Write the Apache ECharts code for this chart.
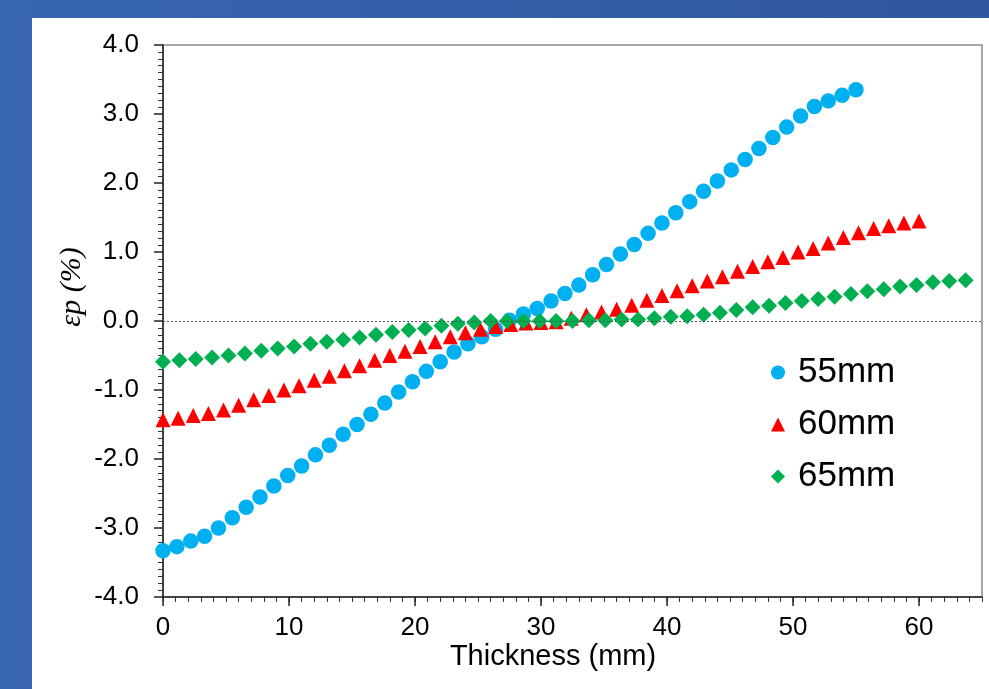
<!DOCTYPE html>
<html lang="en">

<head>
  <meta charset="utf-8">
  <title>Plastic strain vs thickness</title>
  <style>
    * {
      margin: 0;
      padding: 0;
    }

    #chart-container {
      position: relative;
      width: 989px;
      height: 689px;
      overflow: hidden;
    }
  </style>
</head>

<body>
  <div id="chart-container"></div>
  <script src="https://cdn.jsdelivr.net/npm/echarts@6/dist/echarts.min.js"></script>
  <script>
    // thickness positions (mm) and strain values (%)
    var x55 = [0, 1.1, 2.2, 3.3, 4.4, 5.5, 6.6, 7.7, 8.8, 9.9, 11, 12.1, 13.2, 14.3, 15.4, 16.5, 17.6, 18.7, 19.8, 20.9,
      22, 23.1, 24.2, 25.3, 26.4, 27.5, 28.6, 29.7, 30.8, 31.9, 33, 34.1, 35.2, 36.3, 37.4, 38.5, 39.6, 40.7, 41.8, 42.9,
      44, 45.1, 46.2, 47.3, 48.4, 49.5, 50.6, 51.7, 52.8, 53.9, 55];
    var y55 = [-3.33, -3.27, -3.19, -3.12, -3.00, -2.85, -2.70, -2.55, -2.39, -2.24, -2.10, -1.94, -1.80, -1.64, -1.50,
      -1.35, -1.19, -1.03, -0.88, -0.73, -0.59, -0.45, -0.33, -0.23, -0.12, 0.01, 0.10, 0.18, 0.29, 0.40, 0.52, 0.67,
      0.82, 0.97, 1.11, 1.27, 1.42, 1.57, 1.73, 1.88, 2.03, 2.19, 2.34, 2.50, 2.66, 2.81, 2.97, 3.11, 3.19, 3.27, 3.35];

    var x60 = [0, 1.2, 2.4, 3.6, 4.8, 6, 7.2, 8.4, 9.6, 10.8, 12, 13.2, 14.4, 15.6, 16.8, 18, 19.2, 20.4, 21.6, 22.8,
      24, 25.2, 26.4, 27.6, 28.8, 30, 31.2, 32.4, 33.6, 34.8, 36, 37.2, 38.4, 39.6, 40.8, 42, 43.2, 44.4, 45.6, 46.8,
      48, 49.2, 50.4, 51.6, 52.8, 54, 55.2, 56.4, 57.6, 58.8, 60];
    var y60 = [-1.43, -1.41, -1.37, -1.34, -1.29, -1.22, -1.14, -1.08, -1.00, -0.94, -0.86, -0.80, -0.72, -0.65, -0.57,
      -0.50, -0.44, -0.37, -0.30, -0.23, -0.17, -0.12, -0.08, -0.05, -0.03, -0.02, -0.01, 0.04, 0.09, 0.13, 0.17, 0.23,
      0.30, 0.37, 0.44, 0.51, 0.58, 0.64, 0.72, 0.79, 0.86, 0.92, 1.00, 1.05, 1.13, 1.21, 1.28, 1.34, 1.38, 1.42, 1.45];

    var x65 = [0, 1.3, 2.6, 3.9, 5.2, 6.5, 7.8, 9.1, 10.4, 11.7, 13, 14.3, 15.6, 16.9, 18.2, 19.5, 20.8, 22.1, 23.4,
      24.7, 26, 27.3, 28.6, 29.9, 31.2, 32.5, 33.8, 35.1, 36.4, 37.7, 39, 40.3, 41.6, 42.9, 44.2, 45.5, 46.8, 48.1,
      49.4, 50.7, 52, 53.3, 54.6, 55.9, 57.2, 58.5, 59.8, 61.1, 62.4, 63.7];
    var y65 = [-0.59, -0.57, -0.55, -0.53, -0.50, -0.47, -0.43, -0.40, -0.37, -0.33, -0.30, -0.27, -0.24, -0.20, -0.16,
      -0.13, -0.11, -0.07, -0.04, -0.02, 0.00, 0.00, 0.00, 0.00, 0.00, 0.00, 0.01, 0.01, 0.02, 0.02, 0.04, 0.06, 0.07,
      0.09, 0.12, 0.16, 0.20, 0.22, 0.26, 0.29, 0.32, 0.35, 0.39, 0.43, 0.46, 0.50, 0.52, 0.56, 0.58, 0.59];

    var seriesNames = ['55mm', '60mm', '65mm'];
    var xTickLabels = [0, 10, 20, 30, 40, 50, 60];

    function pairs(xs, ys) {
      return xs.map(function (x, i) { return [x, ys[i]]; });
    }

    var dom = document.getElementById('chart-container');
    var myChart = echarts.init(dom, null, { renderer: 'canvas' });

    var font = 'Liberation Sans, Arial, sans-serif';
    var option = {
      animation: false,
      backgroundColor: {
        type: 'linear', x: 0, y: 0, x2: 1, y2: 0,
        colorStops: [{ offset: 0, color: '#3866b0' }, { offset: 1, color: '#2f579e' }]
      },
      graphic: [
        {
          type: 'rect', left: 32, top: 18, z: -10,
          shape: { width: 957, height: 671 },
          style: { fill: '#ffffff' }
        },
        {
          type: 'text', x: 72, y: 287, rotation: Math.PI / 2,
          style: {
            text: 'εp (%)', fill: '#000', align: 'center', verticalAlign: 'middle',
            font: 'italic 30px "Liberation Serif", "Times New Roman", serif'
          }
        },
        {
          type: 'text', x: 553, y: 657,
          style: {
            text: 'Thickness (mm)', fill: '#000', align: 'center', verticalAlign: 'middle',
            font: '29px ' + font
          }
        }
      ],
      grid: {
        left: 163, top: 45, right: 7, bottom: 92,
        show: true, borderColor: '#8c8c8c', borderWidth: 1.5, backgroundColor: 'transparent'
      },
      legend: {
        orient: 'vertical', left: 766, top: 350,
        itemWidth: 14, itemHeight: 14, itemGap: 17,
        textStyle: { fontSize: 35, color: '#000', fontFamily: font, padding: [0, 0, 0, 8] },
        data: seriesNames
      },
      xAxis: [
        {
          type: 'value', min: 0, max: 65, interval: 1,
          axisLine: { onZero: false, lineStyle: { color: '#222', width: 1.5 } },
          axisTick: { length: 5, lineStyle: { color: '#333' } },
          axisLabel: {
            interval: 0, margin: 18, fontSize: 26, color: '#000', fontFamily: font,
            formatter: function (v) { return xTickLabels.indexOf(v) >= 0 ? String(v) : ''; }
          },
          splitLine: { show: false }
        },
        {
          type: 'value', min: 0, max: 65, interval: 10, position: 'bottom',
          axisLine: { show: false, onZero: false },
          axisTick: { length: 9, lineStyle: { color: '#222', width: 1.5 }, customValues: xTickLabels },
          axisLabel: { show: false },
          splitLine: { show: false }
        }
      ],
      yAxis: {
        type: 'value', min: -4, max: 4, interval: 1,
        axisLine: { onZero: false, lineStyle: { color: '#222', width: 1.5 } },
        axisTick: { length: 9, lineStyle: { color: '#222', width: 1.5 } },
        minorTick: { show: true, splitNumber: 10, length: 5, lineStyle: { color: '#333' } },
        axisLabel: {
          margin: 24, fontSize: 26, color: '#000', fontFamily: font,
          formatter: function (v) { return v.toFixed(1); }
        },
        splitLine: { show: false }
      },
      series: [
        {
          name: seriesNames[0], type: 'scatter', symbol: 'circle', symbolSize: 15.5,
          itemStyle: { color: '#00b0f0', opacity: 1 },
          data: pairs(x55, y55),
          markLine: {
            silent: true, symbol: 'none', label: { show: false },
            lineStyle: { color: '#555', type: [2, 2], width: 1.2 },
            data: [{ yAxis: 0 }]
          }
        },
        {
          name: seriesNames[1], type: 'scatter', symbol: 'triangle', symbolSize: 15,
          itemStyle: { color: '#ff0000', opacity: 1 },
          data: pairs(x60, y60)
        },
        {
          name: seriesNames[2], type: 'scatter', symbol: 'diamond', symbolSize: 16,
          itemStyle: { color: '#00b050', opacity: 1 },
          data: pairs(x65, y65)
        }
      ]
    };

    myChart.setOption(option);
    window.addEventListener('resize', myChart.resize);
  </script>
</body>

</html>
